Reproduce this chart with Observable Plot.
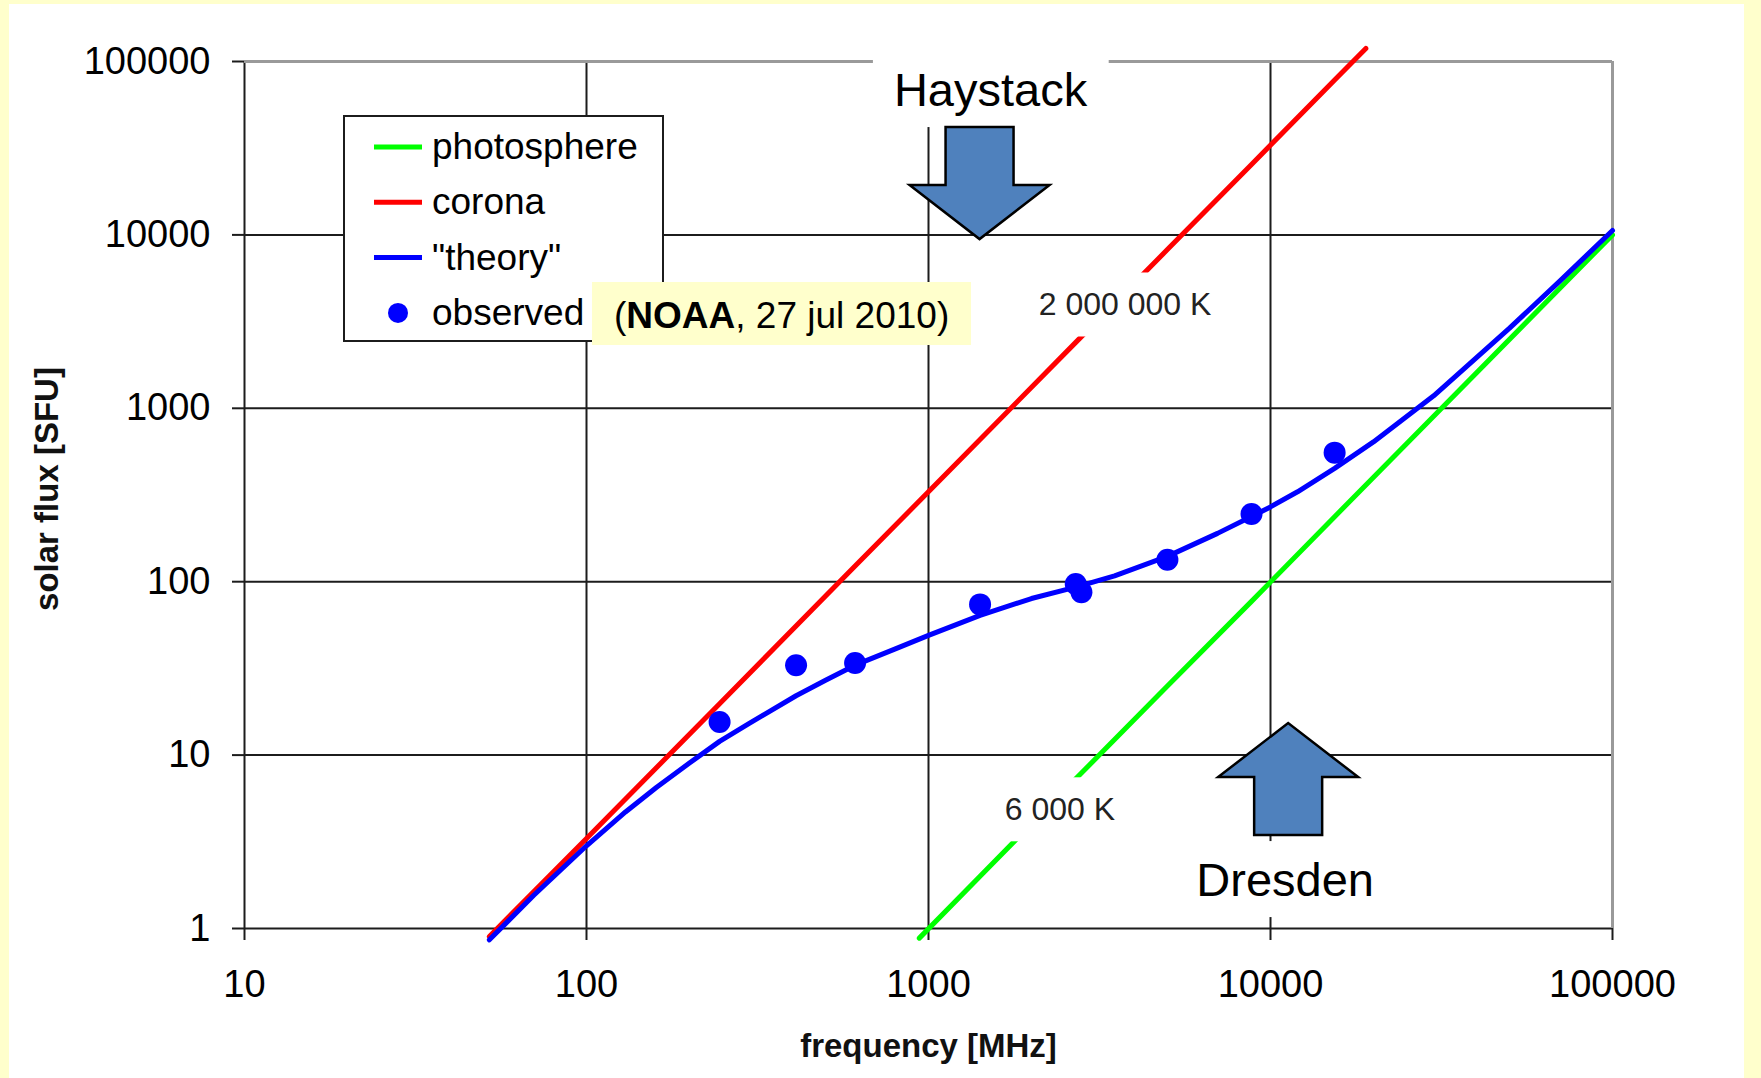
<!DOCTYPE html>
<html>
<head>
<meta charset="utf-8">
<script src="https://cdn.jsdelivr.net/npm/d3@7"></script>
<script src="https://cdn.jsdelivr.net/npm/@observablehq/plot@0.6"></script>
<style>
  html, body { margin: 0; padding: 0; background: #FFFFCC; }
  #page { position: relative; width: 1761px; height: 1078px; overflow: hidden; }
  #sheet { position: absolute; left: 9px; top: 4px; width: 1735px; height: 1074px; background: #ffffff; }
  #chart { position: absolute; left: 0; top: 0; }
  #chart svg g[aria-label*="axis"] path,
  #chart svg g[aria-label*="axis"] line { stroke-width: 2px; stroke: #1c1c1c; }
</style>
</head>
<body>
<div id="page"><div id="sheet"></div><div id="chart"></div></div>
<script>
// Axis ticks
const xTicks = [10, 100, 1000, 10000, 100000];        // frequency [MHz]
const yTicks = [1, 10, 100, 1000, 10000, 100000];      // solar flux [SFU]

// Rayleigh–Jeans line for the photosphere (6 000 K)
const photoFreq = [940, 1415, 2695, 4995, 8800, 15400, 30000, 100000];
const photoFlux = [0.88, 2.0, 7.3, 25, 77, 237, 900, 10000];

// Rayleigh–Jeans line for the corona (2 000 000 K)
const coronaFreq = [52, 100, 245, 610, 1415, 2695, 4995, 8800, 15400, 19000];
const coronaFlux = [0.9, 3.3, 19.8, 123, 661, 2400, 8230, 25500, 78300, 119000];

// Model spectrum ("theory")
const theoryFreq = [52, 70, 100, 130, 160, 200, 245, 300, 410, 500, 610, 800, 1000, 1415,
                    2000, 2695, 3500, 4995, 7000, 8800, 10000, 12000, 15400, 20000, 30000,
                    50000, 70000, 100000];
const theoryFlux = [0.86, 1.55, 3.0, 4.7, 6.5, 9.0, 12.0, 15.3, 22, 27, 33, 41, 49, 64,
                    80, 93, 108, 140, 190, 238, 270, 330, 450, 640, 1180,
                    2900, 5400, 10600];

// Observed daily flux values (NOAA, 27 jul 2010)
const obsFreq = [245, 410, 610, 1415, 2695, 2800, 4995, 8800, 15400];
const obsFlux = [15.5, 33, 34, 74, 97, 87, 134, 246, 555];

// Legend entries
const legendLabels = ["photosphere", "corona", "\"theory\"", "observed"];
const legendColors = ["#00ff00", "#ff0000", "#0000ff", "#0000ff"];

// Temperature labels placed on the lines (frequency, flux at label centre)
const tempText = ["2 000 000 K", "6 000 K"];
const tempFreq = [3770, 2430];
const tempFlux = [3970, 4.87];

// Receiving stations: arrow tip at the observing frequency
const stationNames = ["Haystack", "Dresden"];
const stationFreq = [1415, 11300];
const stationTipFlux = [9400, 15.2];
const stationDir = [1, -1];          // 1 = arrow points down, -1 = arrow points up

(function draw() {
  const pts = (fs, ss) => fs.map((f, i) => ({f, s: ss[i]}));
  const photosphere = pts(photoFreq, photoFlux);
  const corona = pts(coronaFreq, coronaFlux);
  const theory = pts(theoryFreq, theoryFlux);
  const observed = pts(obsFreq, obsFlux);

  const FONT = "'Liberation Sans', Arial, Helvetica, sans-serif";
  const GRID = "#1c1c1c", BORDER = "#9a9a9a";
  const fmt = d => String(d);

  const chart = Plot.plot({
    width: 1761,
    height: 1078,
    marginLeft: 244,
    marginRight: 149,
    marginTop: 61,
    marginBottom: 150,
    style: {background: "transparent", fontFamily: FONT, fontSize: "38px", color: "#000", overflow: "visible"},
    x: {type: "log", domain: [xTicks[0], xTicks[xTicks.length - 1]], ticks: xTicks, tickFormat: fmt,
        tickSize: 12, tickPadding: 30, label: null},
    y: {type: "log", domain: [yTicks[0], yTicks[yTicks.length - 1]], ticks: yTicks, tickFormat: fmt,
        tickSize: 12, tickPadding: 22, label: null},
    marks: [
      Plot.ruleY(yTicks.slice(0, -1), {stroke: GRID, strokeWidth: 2}),
      Plot.ruleX(xTicks.slice(0, -1), {stroke: GRID, strokeWidth: 2}),
      Plot.ruleY(yTicks.slice(-1), {stroke: BORDER, strokeWidth: 3}),
      Plot.ruleX(xTicks.slice(-1), {stroke: BORDER, strokeWidth: 3}),
      Plot.line(photosphere, {x: "f", y: "s", stroke: legendColors[0], strokeWidth: 5}),
      Plot.line(corona, {x: "f", y: "s", stroke: legendColors[1], strokeWidth: 5}),
      Plot.line(theory, {x: "f", y: "s", stroke: legendColors[2], strokeWidth: 5}),
      Plot.dot(observed, {x: "f", y: "s", r: 11, fill: legendColors[3], stroke: "none"}),
      Plot.text(["frequency [MHz]"], {frameAnchor: "bottom", dy: 118, text: d => d,
        textAnchor: "middle", lineAnchor: "middle", fontWeight: "bold", fontSize: 33, fill: "#111"}),
      Plot.text(["solar flux [SFU]"], {frameAnchor: "left", dx: -197, dy: -6, rotate: -90, text: d => d,
        textAnchor: "middle", lineAnchor: "middle", fontWeight: "bold", fontSize: 33, fill: "#111"})
    ]
  });

  document.getElementById("chart").append(chart);

  // Annotation layer drawn on top of the plot, positioned with the plot's scales
  const sx = chart.scale("x"), sy = chart.scale("y");
  const X = d3.scaleLog(sx.domain, sx.range);
  const Y = d3.scaleLog(sy.domain, sy.range);
  const frameLeft = Math.min(...sx.range), frameTop = Math.min(...sy.range);
  const svg = d3.select(chart);
  const layer = svg.append("g").attr("font-family", FONT).attr("text-anchor", "start");

  // Temperature labels with a white box behind them
  tempText.forEach((t, i) => {
    const cx = X(tempFreq[i]), cy = Y(tempFlux[i]);
    const g = layer.append("g");
    const rect = g.append("rect").attr("fill", "#fff");
    const txt = g.append("text").attr("x", cx).attr("y", cy + 0.36 * 32)
      .attr("text-anchor", "middle").attr("font-size", 32).attr("fill", "#222").text(t);
    const b = txt.node().getBBox();
    rect.attr("x", b.x - 7).attr("y", b.y - 14).attr("width", b.width + 14).attr("height", b.height + 28);
  });

  // Station arrows and names
  const labelDx = [11, -3];
  const labelBase = [-133, 173];
  stationNames.forEach((name, i) => {
    const tx = X(stationFreq[i]), ty = Y(stationTipFlux[i]), d = stationDir[i];
    const g = layer.append("g");
    const rect = g.append("rect").attr("fill", "#fff");
    const txt = g.append("text").attr("x", tx + labelDx[i]).attr("y", ty + labelBase[i])
      .attr("text-anchor", "middle").attr("font-size", 47).attr("fill", "#000").text(name);
    const b = txt.node().getBBox();
    rect.attr("x", b.x - 21).attr("y", b.y - (d > 0 ? 19 : 12))
        .attr("width", b.width + 42).attr("height", b.height + (d > 0 ? 30 : 23));
    const y0 = ty - 112 * d, yh = ty - 54 * d;
    const shape = [[tx - 34, y0], [tx + 34, y0], [tx + 34, yh], [tx + 70, yh], [tx, ty], [tx - 70, yh], [tx - 34, yh]];
    g.append("polygon").attr("points", shape.map(p => p.join(",")).join(" "))
      .attr("fill", "#4F81BD").attr("stroke", "#000").attr("stroke-width", 2.5)
      .attr("stroke-linejoin", "miter");
  });

  // Legend box
  const lg = layer.append("g").attr("transform", `translate(${frameLeft + 100},${frameTop + 55})`);
  lg.append("rect").attr("width", 319).attr("height", 225)
    .attr("fill", "#fff").attr("stroke", "#1c1c1c").attr("stroke-width", 2);
  legendLabels.forEach((label, i) => {
    const ry = 31 + i * 55.3;
    if (i < 3) {
      lg.append("line").attr("x1", 30).attr("x2", 78).attr("y1", ry).attr("y2", ry)
        .attr("stroke", legendColors[i]).attr("stroke-width", 5);
    } else {
      lg.append("circle").attr("cx", 54).attr("cy", ry).attr("r", 10).attr("fill", legendColors[i]);
    }
    lg.append("text").attr("x", 88).attr("y", ry + 12).attr("text-anchor", "start")
      .attr("font-size", 37).attr("fill", "#000").text(label);
  });

  // Source note next to the "observed" entry
  const note = layer.append("g").attr("transform", `translate(${frameLeft + 348},${frameTop + 221})`);
  note.append("rect").attr("width", 379).attr("height", 63).attr("fill", "#FFFFCC");
  const nt = note.append("text").attr("x", 22).attr("y", 46).attr("text-anchor", "start")
    .attr("font-size", 37).attr("fill", "#000");
  nt.append("tspan").text("(");
  nt.append("tspan").attr("font-weight", "bold").text("NOAA");
  nt.append("tspan").text(", 27 jul 2010)");
})();
</script>
</body>
</html>
